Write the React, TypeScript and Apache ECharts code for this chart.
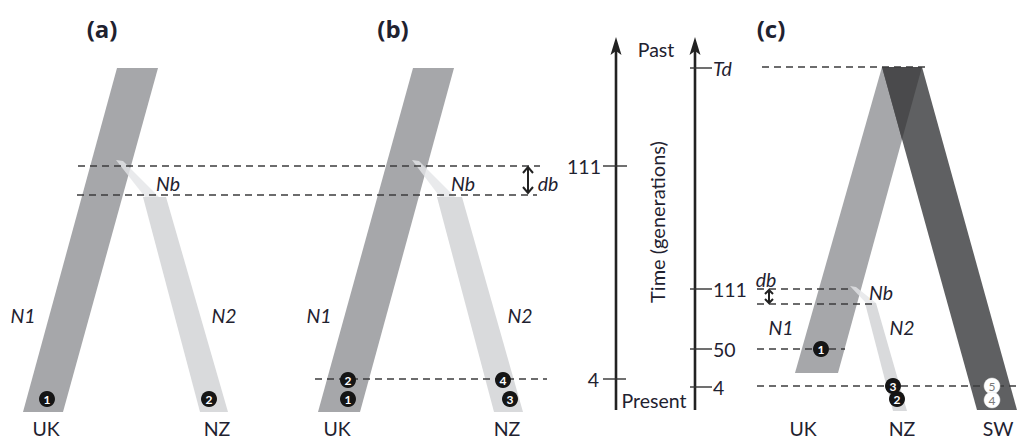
import React, { useEffect, useRef } from "react";
import * as echarts from "echarts";

// ---- Diagram data (x in px-like units, y in px-like units, top = 0) ----
type Pt = [number, number];

// Population bands (parallelograms) per panel
const bandDarkA: Pt[] = [[117, 68], [158, 68], [63, 412], [23, 412]];
const bandLightA: Pt[] = [[143, 197], [166, 197], [228, 412], [200, 412]];
const stripNbA: Pt[] = [[116, 160], [123, 161], [159, 197], [145, 197]];

const bandDarkB: Pt[] = [[413, 68], [454, 68], [360, 412], [318, 412]];
const bandLightB: Pt[] = [[437, 197], [462, 197], [523, 412], [494, 412]];
const stripNbB: Pt[] = [[412, 160], [419, 161], [455, 197], [440, 197]];

const bandUKC: Pt[] = [[882, 67], [922, 67], [838, 373], [795, 373]];
const bandSWC: Pt[] = [[882, 67], [922, 67], [1017, 410], [977, 410]];
const overlapC: Pt[] = [[882, 67], [922, 67], [902, 139.5]];
const bandNZC: Pt[] = [[865, 303], [876, 303], [907, 411], [893, 411]];
const stripNbC: Pt[] = [[850, 286], [856, 287], [876, 303], [866, 303]];

// Dashed time lines: [x1, x2, y]
const dashedLines: [number, number, number][] = [
  [78, 540, 166],
  [77, 537, 195],
  [315, 547, 379],
  [762, 928, 67],
  [757, 853, 289],
  [757, 873, 304],
  [757, 845, 349],
  [757, 1018, 386],
];

// Time axes (x, yBottom, yTip)
const timeAxes: [number, number, number][] = [
  [616, 410, 37],
  [695, 410, 37],
];

// Ticks: [x1, x2, y]
const axisTicks: [number, number, number][] = [
  [603, 627, 166],
  [603, 626, 379],
  [690, 712, 68],
  [690, 712, 289],
  [690, 712, 349],
  [690, 712, 387],
];

// Double arrows for db: [x, yTop, yBottom, halfWidth, headLen]
const dbArrows: [number, number, number, number, number][] = [
  [528, 167, 193, 5, 6],
  [769, 290, 303, 4, 4],
];

// Sample markers: [x, y, label]
const blackMarkers: [number, number, string][] = [
  [47, 399, "1"],
  [209, 399, "2"],
  [348, 380, "2"],
  [348, 399, "1"],
  [503, 380, "4"],
  [510, 399, "3"],
  [821, 349, "1"],
  [893, 386, "3"],
  [897, 399, "2"],
];
const whiteMarkers: [number, number, string][] = [
  [992, 386, "5"],
  [992, 400, "4"],
];

// Text labels: [text, x, y, align, kind]
type Kind = "title" | "italic" | "plain";
const labels: [string, number, number, "left" | "center" | "right", Kind][] = [
  ["(a)", 102, 28, "center", "title"],
  ["(b)", 393, 28, "center", "title"],
  ["(c)", 771, 28, "center", "title"],
  ["N1", 23, 315, "center", "italic"],
  ["N2", 224, 315, "center", "italic"],
  ["Nb", 168, 183, "center", "italic"],
  ["UK", 46, 428, "center", "plain"],
  ["NZ", 217, 428, "center", "plain"],
  ["N1", 319, 315, "center", "italic"],
  ["N2", 520, 315, "center", "italic"],
  ["Nb", 463, 183, "center", "italic"],
  ["db", 548, 183, "center", "italic"],
  ["UK", 337, 428, "center", "plain"],
  ["NZ", 507, 428, "center", "plain"],
  ["111", 601, 166, "right", "plain"],
  ["4", 599, 379, "right", "plain"],
  ["Past", 656, 49, "center", "plain"],
  ["Present", 654, 400, "center", "plain"],
  ["Td", 713, 68, "left", "italic"],
  ["111", 713, 289, "left", "plain"],
  ["50", 713, 349, "left", "plain"],
  ["4", 713, 387, "left", "plain"],
  ["db", 766, 279, "center", "italic"],
  ["Nb", 881, 292, "center", "italic"],
  ["N1", 781, 327, "center", "italic"],
  ["N2", 902, 327, "center", "italic"],
  ["UK", 803, 428, "center", "plain"],
  ["NZ", 902, 428, "center", "plain"],
  ["SW", 998, 428, "center", "plain"],
];
const axisTitle: [string, number, number] = ["Time (generations)", 657, 222];

// ---- Styles ----
const C_DARK = "#a6a7aa";
const C_LIGHT = "#d9dadc";
const C_SW = "#5f6062";
const C_OVER = "#4a4a4c";
const C_STRIP = "#e4e5e7";
const C_TEXT = "#1f2230";
const FONT = "Lato, 'Open Sans', sans-serif";

const polys: { pts: Pt[]; fill: string; opacity: number }[] = [
  { pts: bandDarkA, fill: C_DARK, opacity: 1 },
  { pts: bandLightA, fill: C_LIGHT, opacity: 1 },
  { pts: stripNbA, fill: C_STRIP, opacity: 0.8 },
  { pts: bandDarkB, fill: C_DARK, opacity: 1 },
  { pts: bandLightB, fill: C_LIGHT, opacity: 1 },
  { pts: stripNbB, fill: C_STRIP, opacity: 0.8 },
  { pts: bandUKC, fill: C_DARK, opacity: 1 },
  { pts: bandSWC, fill: C_SW, opacity: 1 },
  { pts: overlapC, fill: C_OVER, opacity: 1 },
  { pts: bandNZC, fill: C_LIGHT, opacity: 1 },
  { pts: stripNbC, fill: C_STRIP, opacity: 0.8 },
];

function custom(items: any[], first: (it: any) => number[], render: (it: any, api: any) => any, z: number) {
  return {
    type: "custom",
    coordinateSystem: "cartesian2d",
    silent: true,
    clip: false,
    z,
    data: items.map(first),
    renderItem: (params: any, api: any) => render(items[params.dataIndex], api),
  };
}

export default function App() {
  const ref = useRef<HTMLDivElement>(null);

  useEffect(() => {
    if (!ref.current) return;
    const chart = echarts.init(ref.current, null, { renderer: "svg" });

    const seg = (api: any, x1: number, y1: number, x2: number, y2: number) => {
      const a = api.coord([x1, y1]);
      const b = api.coord([x2, y2]);
      return { x1: a[0], y1: a[1], x2: b[0], y2: b[1] };
    };

    const option: any = {
      animation: false,
      backgroundColor: "#ffffff",
      grid: { left: 0, right: 0, top: 0, bottom: 0 },
      xAxis: { type: "value", min: 0, max: 1022, show: false },
      yAxis: { type: "value", min: 0, max: 439, inverse: true, show: false },
      series: [
        custom(polys, (p) => p.pts[0], (p, api) => ({
          type: "polygon",
          shape: { points: p.pts.map((q: Pt) => api.coord(q)) },
          style: { fill: p.fill, opacity: p.opacity },
        }), 1),
        custom(dashedLines, (d) => [d[0], d[2]], (d, api) => ({
          type: "line",
          shape: seg(api, d[0], d[2], d[1], d[2]),
          style: { stroke: "#3c3c3e", lineWidth: 1.6, lineDash: [7, 5] },
        }), 2),
        custom(timeAxes, (d) => [d[0], d[1]], (d, api) => {
          const base = api.coord([d[0], d[1]]);
          const tip = api.coord([d[0], d[2]]);
          return {
            type: "group",
            children: [
              { type: "line", shape: { x1: base[0], y1: base[1], x2: tip[0], y2: tip[1] + 10 }, style: { stroke: "#222", lineWidth: 2.6 } },
              {
                type: "polygon",
                shape: { points: [[tip[0], tip[1]], [tip[0] + 5.5, tip[1] + 18], [tip[0], tip[1] + 14], [tip[0] - 5.5, tip[1] + 18]] },
                style: { fill: "#222" },
              },
            ],
          };
        }, 3),
        custom(axisTicks, (d) => [d[0], d[2]], (d, api) => ({
          type: "line",
          shape: seg(api, d[0], d[2], d[1], d[2]),
          style: { stroke: "#333", lineWidth: 1.4 },
        }), 3),
        custom(dbArrows, (d) => [d[0], d[1]], (d, api) => {
          const t = api.coord([d[0], d[1]]);
          const b = api.coord([d[0], d[2]]);
          const w = d[3];
          const h = d[4];
          return {
            type: "group",
            children: [
              { type: "line", shape: { x1: t[0], y1: t[1] + 1, x2: b[0], y2: b[1] - 1 }, style: { stroke: "#222", lineWidth: 2 } },
              { type: "polyline", shape: { points: [[t[0] - w, t[1] + h], [t[0], t[1]], [t[0] + w, t[1] + h]] }, style: { stroke: "#222", lineWidth: 2, fill: "none" } },
              { type: "polyline", shape: { points: [[b[0] - w, b[1] - h], [b[0], b[1]], [b[0] + w, b[1] - h]] }, style: { stroke: "#222", lineWidth: 2, fill: "none" } },
            ],
          };
        }, 3),
        {
          type: "scatter",
          z: 5,
          silent: true,
          symbol: "circle",
          symbolSize: 16,
          itemStyle: { color: "#151515", opacity: 1 },
          label: {
            show: true,
            position: "inside",
            formatter: (p: any) => p.data[2],
            color: "#ffffff",
            fontSize: 12,
            fontWeight: "bold",
            fontFamily: FONT,
          },
          data: blackMarkers,
        },
        {
          type: "scatter",
          z: 5,
          silent: true,
          symbol: "circle",
          symbolSize: 16,
          itemStyle: { color: "#ffffff", borderColor: "#e0e0e0", borderWidth: 0.5, opacity: 1 },
          label: {
            show: true,
            position: "inside",
            formatter: (p: any) => p.data[2],
            color: "#7a7a7a",
            fontSize: 12,
            fontFamily: FONT,
          },
          data: whiteMarkers,
        },
        custom(labels, (l) => [l[1], l[2]], (l, api) => {
          const p = api.coord([l[1], l[2]]);
          const kind: Kind = l[4];
          return {
            type: "text",
            x: p[0],
            y: p[1],
            style: {
              text: l[0],
              fill: C_TEXT,
              fontFamily: kind === "title" ? "'Open Sans', Lato, sans-serif" : FONT,
              fontSize: kind === "title" ? 24 : 19.5,
              fontWeight: kind === "title" ? "bold" : "normal",
              fontStyle: kind === "italic" ? "italic" : "normal",
              align: l[3],
              verticalAlign: "middle",
            },
          };
        }, 6),
        custom([axisTitle], (a) => [a[1], a[2]], (a, api) => {
          const p = api.coord([a[1], a[2]]);
          return {
            type: "text",
            x: p[0],
            y: p[1],
            rotation: Math.PI / 2,
            style: {
              text: a[0],
              fill: C_TEXT,
              fontFamily: FONT,
              fontSize: 20,
              align: "center",
              verticalAlign: "middle",
            },
          };
        }, 6),
      ],
    };

    chart.setOption(option);
    return () => chart.dispose();
  }, []);

  return (
    <div
      ref={ref}
      style={{ position: "fixed", left: 0, top: 0, width: 1022, height: 439, background: "#fff" }}
    />
  );
}
